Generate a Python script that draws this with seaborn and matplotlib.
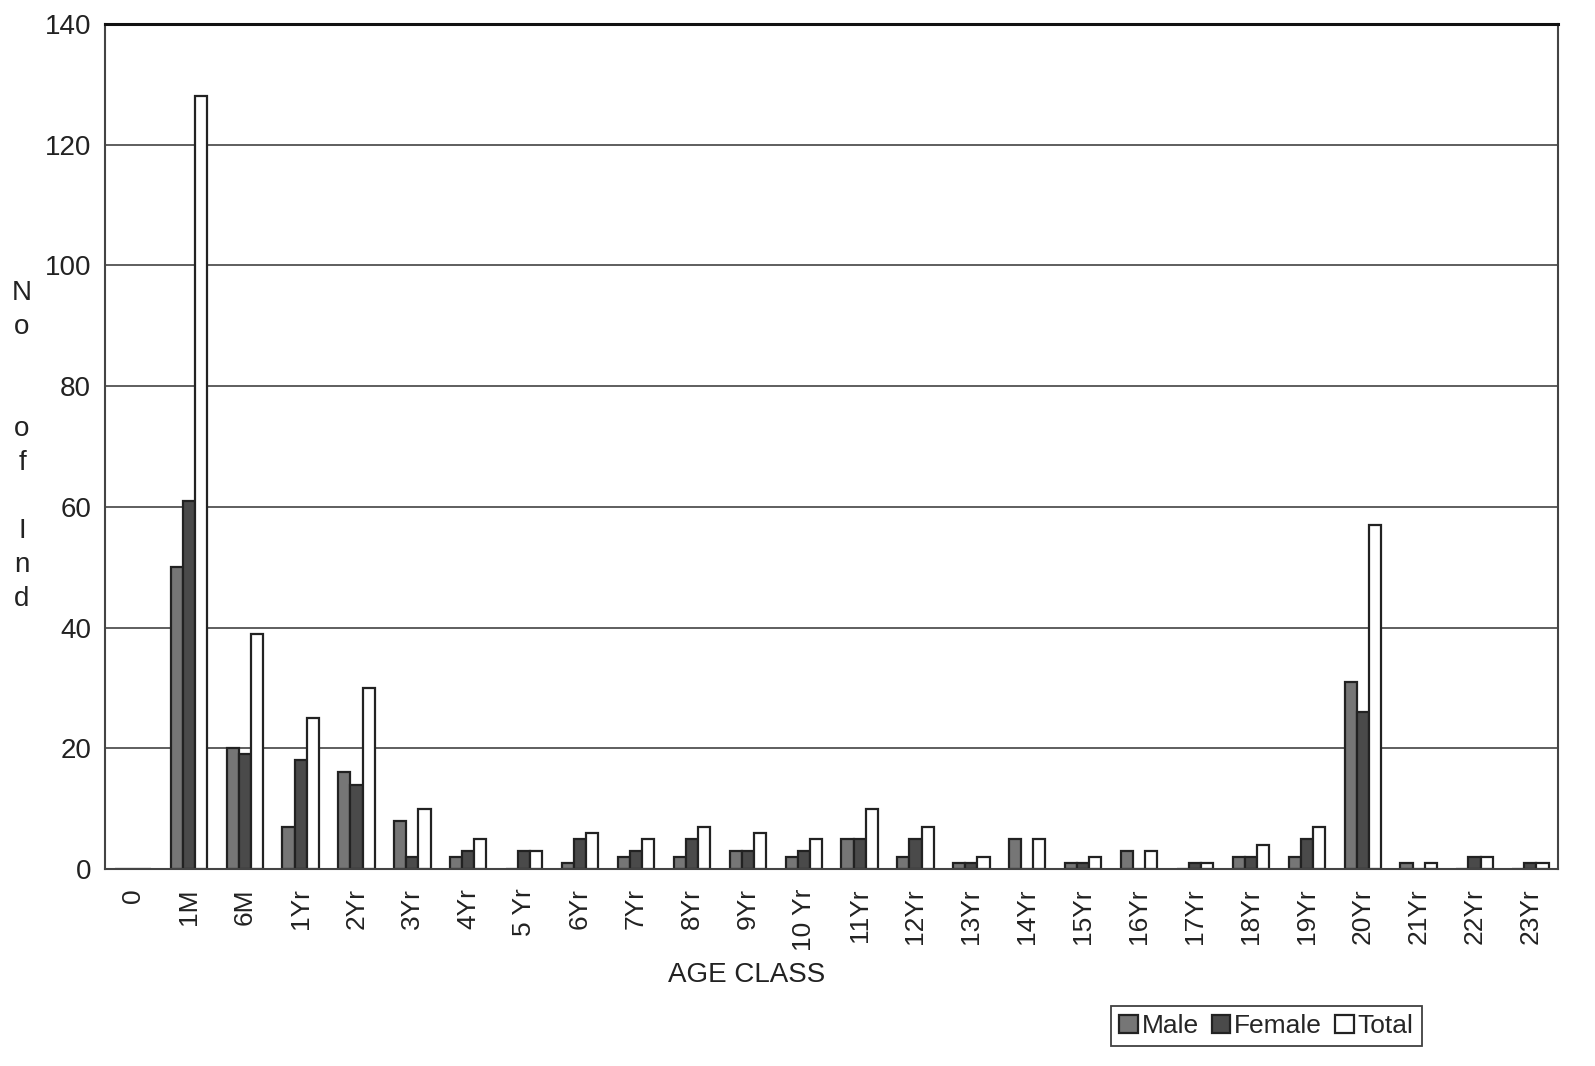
import numpy as np
import pandas as pd
import matplotlib
matplotlib.use("Agg")
import matplotlib.pyplot as plt
import seaborn as sns

age_class = ['0', '1M', '6M', '1Yr', '2Yr', '3Yr', '4Yr', '5 Yr', '6Yr', '7Yr', '8Yr',
             '9Yr', '10 Yr', '11Yr', '12Yr', '13Yr', '14Yr', '15Yr', '16Yr', '17Yr',
             '18Yr', '19Yr', '20Yr', '21Yr', '22Yr', '23Yr']
male = [0, 50, 20, 7, 16, 8, 2, 0, 1, 2, 2, 3, 2, 5, 2, 1, 5, 1, 3, 0, 2, 2, 31, 1, 0, 0]
female = [0, 61, 19, 18, 14, 2, 3, 3, 5, 3, 5, 3, 3, 5, 5, 1, 0, 1, 0, 1, 2, 5, 26, 0, 2, 1]
total = [0, 128, 39, 25, 30, 10, 5, 3, 6, 5, 7, 6, 5, 10, 7, 2, 5, 2, 3, 1, 4, 7, 57, 1, 2, 1]

df = pd.DataFrame({'age': age_class * 3,
                   'count': male + female + total,
                   'sex': ['Male'] * len(male) + ['Female'] * len(female) + ['Total'] * len(total)})

sns.set_style("white")
plt.rcParams['font.family'] = ['Liberation Sans', 'DejaVu Sans']

fig = plt.figure(figsize=(15.95, 10.66), dpi=100)
ax = fig.add_axes([0.0658, 0.1848, 0.9112, 0.7927])

pal = {'Male': '#767676', 'Female': '#4a4a4a', 'Total': 'white'}
sns.barplot(data=df, x='age', y='count', hue='sex', palette=pal, order=age_class,
            hue_order=['Male', 'Female', 'Total'], width=0.65, gap=0,
            edgecolor='#222222', linewidth=1.6, saturation=1, ax=ax)

ax.set_xlim(-0.5, len(age_class) - 0.5)
ax.set_ylim(0, 140)
ax.set_yticks(range(0, 141, 20))
ax.yaxis.grid(True, color='#333333', linewidth=1.1)
ax.set_axisbelow(True)

ax.set_xticks(np.arange(-0.5, len(age_class), 1), minor=True)
ax.tick_params(axis='x', which='major', length=0, pad=14, labelsize=19, rotation=90)
ax.tick_params(axis='x', which='minor', length=6, width=1, color='#555555', direction='out')
ax.tick_params(axis='y', length=6, width=1, color='#555555', direction='out', labelsize=20, pad=4)
for lbl in ax.get_xticklabels() + ax.get_yticklabels():
    lbl.set_color('#222222')

for side in ['left', 'bottom', 'right']:
    ax.spines[side].set_color('#444444')
    ax.spines[side].set_linewidth(1.5)
ax.spines['top'].set_color('#111111')
ax.spines['top'].set_linewidth(2.2)

ax.set_xlabel('')
ax.set_ylabel('')
fig.text(0.468, 0.085, 'AGE CLASS', ha='center', va='center', fontsize=20, color='#222222')
fig.text(0.0138, 0.582, 'N\no\n\n\no\nf\n\nI\nn\nd', ha='center', va='center',
         fontsize=20, color='#222222', linespacing=1.4)

handles, labels = ax.get_legend_handles_labels()
ax.get_legend().remove()
leg = fig.legend(handles, labels, loc='center', bbox_to_anchor=(0.794, 0.0375), ncol=3,
                 fontsize=19, frameon=True, fancybox=False, edgecolor='#111111',
                 handlelength=0.7, handleheight=0.7, handletextpad=0.15,
                 columnspacing=0.5, borderpad=0.3, borderaxespad=0)
leg.get_frame().set_linewidth(1.3)

fig.savefig('out.png', dpi=100, facecolor='white')
